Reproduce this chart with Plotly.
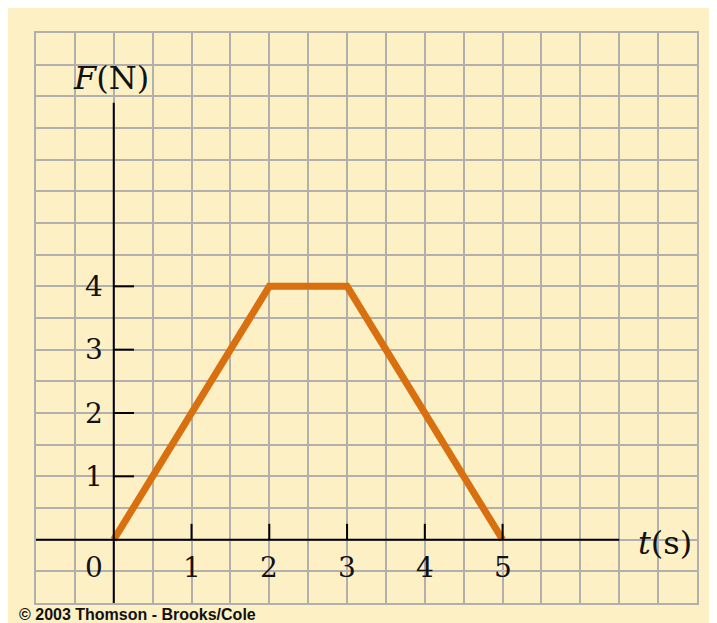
import plotly.graph_objects as go

# force-time data
time_s = [0, 2, 3, 5]
force_n = [0, 4, 4, 0]

x_ticks = [1, 2, 3, 4, 5]
y_ticks = [1, 2, 3, 4]
x_range = [-1, 7.5]
y_range = [-1, 8]
x_axis_end = 6.5
y_axis_end = 6.9

CREAM = "#FDF0C4"
GRID = "#B2B0AC"
ORANGE = "#D9700F"
SERIF = "DejaVu Serif, Liberation Serif, serif"

fig = go.Figure()

fig.add_trace(
    go.Scatter(
        x=time_s,
        y=force_n,
        mode="lines",
        line=dict(color=ORANGE, width=7),
        hoverinfo="skip",
        showlegend=False,
    )
)

shapes = [
    # axes
    dict(type="line", x0=x_range[0], x1=x_axis_end, y0=0, y1=0,
         line=dict(color="black", width=2)),
    dict(type="line", x0=0, x1=0, y0=y_range[0], y1=y_axis_end,
         line=dict(color="black", width=2)),
]
for t in x_ticks:
    shapes.append(dict(type="line", x0=t, x1=t, y0=0, y1=0.25,
                       line=dict(color="black", width=2)))
for f in y_ticks:
    shapes.append(dict(type="line", x0=0, x1=0.26, y0=f, y1=f,
                       line=dict(color="black", width=2)))

label_font = dict(family=SERIF, size=28, color="#111")
annotations = []
for t in x_ticks:
    annotations.append(dict(x=t, y=-0.44, text=str(t), showarrow=False, font=label_font))
annotations.append(dict(x=-0.26, y=-0.44, text="0", showarrow=False, font=label_font))
for f in y_ticks:
    annotations.append(dict(x=-0.26, y=f, text=str(f), showarrow=False, font=label_font))
annotations.append(dict(x=-0.04, y=7.29, text="<i>F</i>(N)", showarrow=False,
                        font=dict(family=SERIF, size=32, color="#111")))
annotations.append(dict(x=7.09, y=-0.05, text="<i>t</i>(s)", showarrow=False,
                        font=dict(family=SERIF, size=32, color="#111")))
annotations.append(dict(xref="paper", yref="paper", x=-0.029, y=-0.021,
                        xanchor="left", yanchor="middle",
                        text="<b>© 2003 Thomson - Brooks/Cole</b>", showarrow=False,
                        font=dict(family="Liberation Sans, Arial, sans-serif", size=16,
                                  color="#111")))

fig.update_layout(
    width=717,
    height=623,
    margin=dict(l=28, r=28, t=25, b=28),
    paper_bgcolor=CREAM,
    plot_bgcolor=CREAM,
    shapes=shapes,
    annotations=annotations,
    xaxis=dict(range=x_range, dtick=0.5, tick0=0, showgrid=True, gridcolor=GRID,
               gridwidth=2, zeroline=False, showticklabels=False, ticks="",
               showline=True, linecolor=GRID, linewidth=2, mirror=True, fixedrange=True),
    yaxis=dict(range=y_range, dtick=0.5, tick0=0, showgrid=True, gridcolor=GRID,
               gridwidth=2, zeroline=False, showticklabels=False, ticks="",
               showline=True, linecolor=GRID, linewidth=2, mirror=True, fixedrange=True),
)

fig.write_html("out.html")
